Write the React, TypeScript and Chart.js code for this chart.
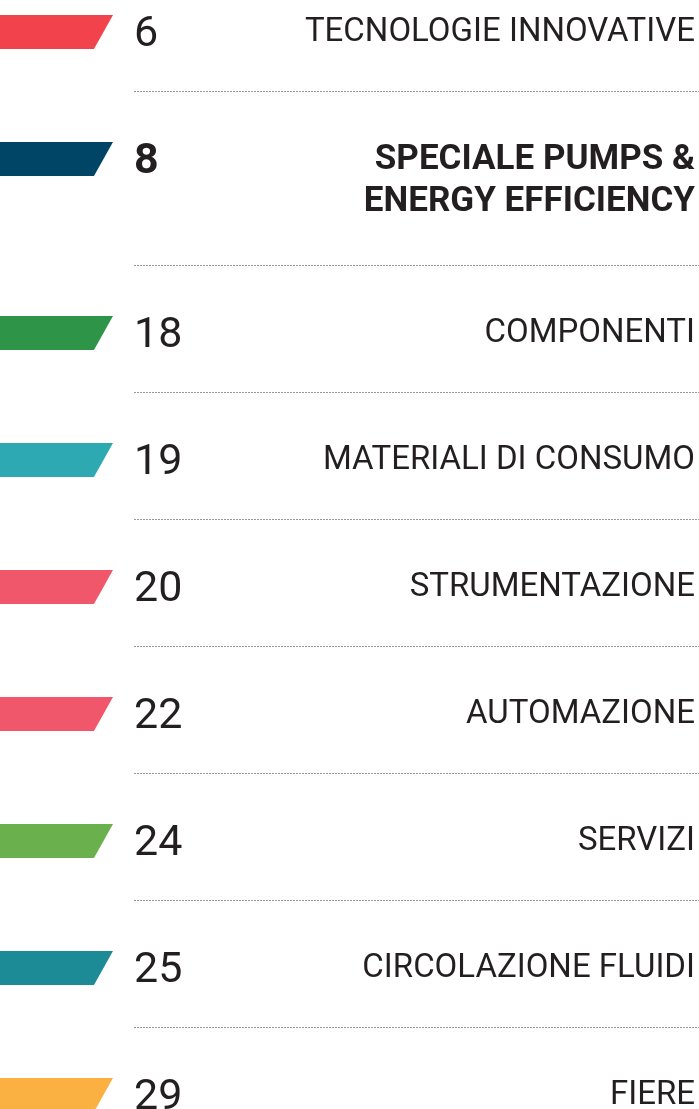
import React, { useEffect, useRef } from "react";
import { Chart, registerables } from "chart.js";

Chart.register(...registerables);

// ---- data ----
const pageNumbers = ["6", "8", "18", "19", "20", "22", "24", "25", "29"];
const sectionTitles: string[][] = [
  ["TECNOLOGIE INNOVATIVE"],
  ["SPECIALE PUMPS &", "ENERGY EFFICIENCY"],
  ["COMPONENTI"],
  ["MATERIALI DI CONSUMO"],
  ["STRUMENTAZIONE"],
  ["AUTOMAZIONE"],
  ["SERVIZI"],
  ["CIRCOLAZIONE FLUIDI"],
  ["FIERE"],
];
const featured = [false, true, false, false, false, false, false, false, false];
const barColors = [
  "#F2434C",
  "#004466",
  "#2E9548",
  "#2DAAB1",
  "#F1576B",
  "#F1576B",
  "#6AB04C",
  "#1C8B95",
  "#FBB042",
];
const barValues = [113, 113, 113, 113, 113, 113, 113, 113, 113];

// ---- layout helpers (style) ----
const W = 699;
const H = 1109;
const ROW_PX = 127;
const FIRST_PX = 32;
const EXTRA_LINE = 0.37; // extra row units per additional title line
const LINE_OFFSET = 59 / ROW_PX;
const TEXT_COLOR = "#231F20";

const rowPos: number[] = [];
{
  let acc = 0;
  sectionTitles.forEach((t, i) => {
    rowPos.push(i + acc);
    acc += (t.length - 1) * EXTRA_LINE;
  });
}

const tocPlugin = {
  id: "tocPlugin",
  beforeDatasetsDraw(chart: any) {
    const ctx = chart.ctx as CanvasRenderingContext2D;
    const meta = chart.getDatasetMeta(0);
    meta.data.forEach((el: any, i: number) => {
      const { x, y, base, height } = el.getProps(["x", "y", "base", "height"], true);
      const top = y - height / 2;
      const bottom = y + height / 2;
      const slant = height * 0.56;
      ctx.save();
      ctx.fillStyle = barColors[i];
      ctx.beginPath();
      ctx.moveTo(base, top);
      ctx.lineTo(x, top);
      ctx.lineTo(x - slant, bottom);
      ctx.lineTo(base, bottom);
      ctx.closePath();
      ctx.fill();
      ctx.restore();
    });
    return false;
  },
  afterDraw(chart: any) {
    const ctx = chart.ctx as CanvasRenderingContext2D;
    const xs = chart.scales.x;
    const ys = chart.scales.y;
    const numX = xs.getPixelForValue(134);
    const titleX = xs.getPixelForValue(695);
    const lineX0 = xs.getPixelForValue(134);
    const lineX1 = xs.getPixelForValue(699);
    ctx.save();
    sectionTitles.forEach((lines, i) => {
      const cy = ys.getPixelForValue(rowPos[i]);
      const bold = featured[i];
      ctx.fillStyle = TEXT_COLOR;
      ctx.textBaseline = "alphabetic";
      // page number
      ctx.textAlign = "left";
      ctx.font = `${bold ? 700 : 400} 43px Roboto`;
      ctx.fillText(pageNumbers[i], numX, cy + 14);
      // title
      ctx.textAlign = "right";
      ctx.font = bold ? "700 35px Roboto" : "400 33px Roboto";
      lines.forEach((line, j) => {
        ctx.fillText(line, titleX, cy + (bold ? 10 : 9) + j * 42);
      });
      // dotted separator
      if (i < sectionTitles.length - 1) {
        const ly =
          Math.round(ys.getPixelForValue(rowPos[i] + LINE_OFFSET + (lines.length - 1) * EXTRA_LINE)) + 0.5;
        ctx.strokeStyle = "#999999";
        ctx.lineWidth = 1;
        ctx.setLineDash([2, 1]);
        ctx.beginPath();
        ctx.moveTo(lineX0, ly);
        ctx.lineTo(lineX1, ly);
        ctx.stroke();
        ctx.setLineDash([]);
      }
    });
    ctx.restore();
  },
};

export default function App() {
  const ref = useRef<HTMLCanvasElement | null>(null);
  useEffect(() => {
    document.body.style.margin = "0";
    const canvas = ref.current;
    if (!canvas) return;
    const chart = new Chart(canvas, {
      type: "bar",
      data: {
        datasets: [
          {
            data: rowPos.map((y, i) => ({ x: barValues[i], y })),
            backgroundColor: barColors,
            borderWidth: 0,
            barThickness: 34,
          } as any,
        ],
      },
      options: {
        indexAxis: "y",
        animation: false,
        responsive: false,
        maintainAspectRatio: false,
        devicePixelRatio: 1,
        layout: { padding: 0 },
        scales: {
          x: { type: "linear", min: 0, max: W, display: false, offset: false },
          y: {
            type: "linear",
            min: -FIRST_PX / ROW_PX,
            max: (H - FIRST_PX) / ROW_PX,
            reverse: true,
            display: false,
            offset: false,
          },
        },
        plugins: {
          legend: { display: false },
          tooltip: { enabled: false },
        },
      } as any,
      plugins: [tocPlugin as any],
    });
    return () => chart.destroy();
  }, []);
  return (
    <div style={{ width: W, height: H, background: "#fff" }}>
      <canvas ref={ref} width={W} height={H} style={{ display: "block", width: W, height: H }} />
    </div>
  );
}
